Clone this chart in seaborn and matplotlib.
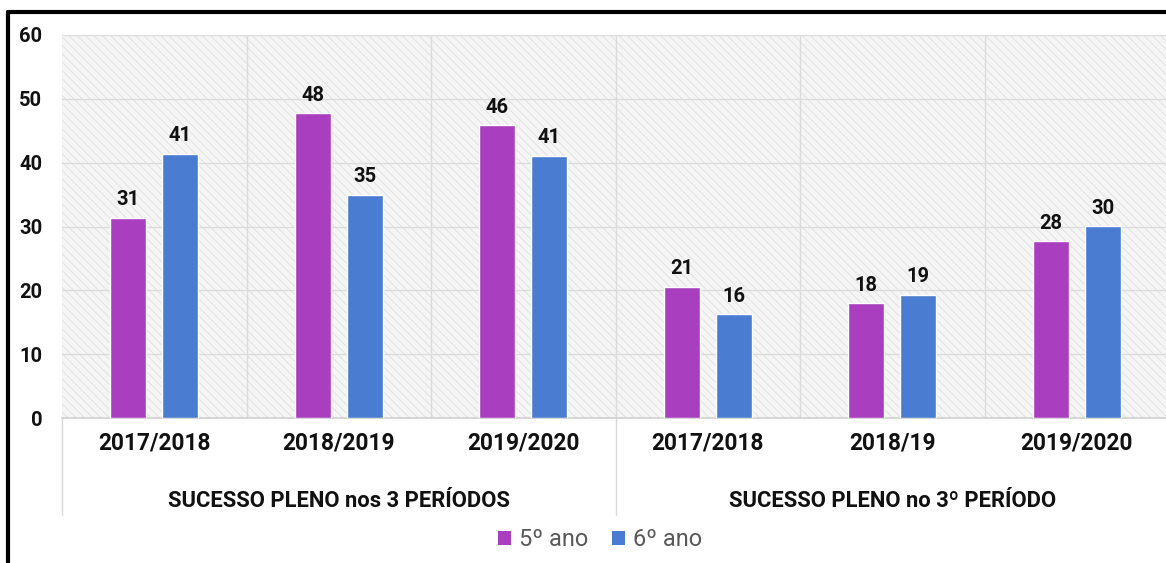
import matplotlib
matplotlib.use("Agg")
import matplotlib.pyplot as plt
import seaborn as sns
import pandas as pd
from matplotlib.patches import Rectangle
from matplotlib.lines import Line2D

# ---- data ----
groups = ["SUCESSO PLENO nos 3 PERÍODOS", "SUCESSO PLENO no 3º PERÍODO"]
years = ["2017/2018", "2018/2019", "2019/2020", "2017/2018", "2018/19", "2019/2020"]
group_of = [0, 0, 0, 1, 1, 1]
series = ["5º ano", "6º ano"]
ano5 = [31.4, 47.8, 45.9, 20.6, 18.0, 27.7]
ano6 = [41.4, 35.0, 41.1, 16.3, 19.3, 30.1]
colors = ["#A93FBF", "#4A7CD1"]

keys = [f"{g}|{y}|{i}" for i, (g, y) in enumerate(zip(group_of, years))]
df = pd.DataFrame({
    "key": keys * 2,
    "serie": [series[0]] * 6 + [series[1]] * 6,
    "valor": ano5 + ano6,
})

sns.set_theme(style="white")
plt.rcParams["font.family"] = ["Roboto", "DejaVu Sans"]
plt.rcParams["hatch.color"] = "#dedede"
plt.rcParams["hatch.linewidth"] = 0.6

fig = plt.figure(figsize=(11.66, 5.63), dpi=100)
ax = fig.add_axes([62 / 1166, 1 - 418 / 563, (1169 - 62) / 1166, (418 - 35) / 563])
ax.set_facecolor("#f5f5f5")
ax.add_patch(Rectangle((0, 0), 1, 1, transform=ax.transAxes, facecolor="none",
                       hatch="\\\\\\\\", edgecolor="#e0e0e0", linewidth=0, zorder=0))

sns.barplot(data=df, x="key", y="valor", hue="serie", order=keys,
            hue_order=series, palette=colors, width=0.564, gap=0.31,
            saturation=1, ax=ax, legend=False, zorder=3)

for cont in ax.containers:
    ax.bar_label(cont, fmt="%.0f", padding=6, fontsize=14.5, fontweight="bold",
                 color="#111111")

ax.set_ylim(0, 60)
ax.set_xlim(-0.5, 5.5)
ax.set_yticks(range(0, 61, 10))
ax.set_yticklabels([str(v) for v in range(0, 61, 10)], fontsize=14.5,
                   fontweight="bold", color="#111111")
ax.tick_params(axis="y", length=0, pad=14)
ax.set_xticks(range(6))
ax.set_xticklabels(years, fontsize=16.3, fontweight="bold", color="#111111")
ax.tick_params(axis="x", length=0, pad=10)
ax.set_xlabel("")
ax.set_ylabel("")

# grid
for v in range(10, 61, 10):
    ax.axhline(v, color="#dcdcdc", lw=1.0, zorder=1)
for b in [0.5, 1.5, 2.5, 3.5, 4.5]:
    ax.axvline(b, color="#dcdcdc", lw=1.0, zorder=1)
for s in ["top", "right", "left"]:
    ax.spines[s].set_visible(False)
ax.spines["bottom"].set_color("#d0d0d0")
ax.spines["bottom"].set_linewidth(1.2)

# group labels and separators below axis
trans = ax.get_xaxis_transform()
ax.text(1.0, -0.216, groups[0], transform=trans, ha="center", va="center",
        fontsize=15.8, color="#111111", fontweight="bold")
ax.text(4.0, -0.216, groups[1], transform=trans, ha="center", va="center",
        fontsize=15.8, color="#111111", fontweight="bold")
for xv in [-0.5, 2.5]:
    ax.plot([xv, xv], [0, -0.253], transform=trans, color="#d9d9d9", lw=1.0,
            clip_on=False)

# legend
handles = [Rectangle((0, 0), 1, 1, facecolor=c, edgecolor="none") for c in colors]
leg = fig.legend(handles, series, loc="center", bbox_to_anchor=(600 / 1166, 1 - 540 / 563),
                 ncol=2, frameon=False, fontsize=17, handlelength=0.55,
                 handleheight=0.55, handletextpad=0.35, columnspacing=1.0)
for t in leg.get_texts():
    t.set_color("#595959")

# black frame (top and left)
fig.add_artist(Line2D([8 / 1166, 1.0], [1 - 12 / 563, 1 - 12 / 563],
                      transform=fig.transFigure, color="black", lw=3))
fig.add_artist(Line2D([8 / 1166, 8 / 1166], [1 - 12 / 563, 0],
                      transform=fig.transFigure, color="black", lw=3))

fig.savefig("out.png", dpi=100)
